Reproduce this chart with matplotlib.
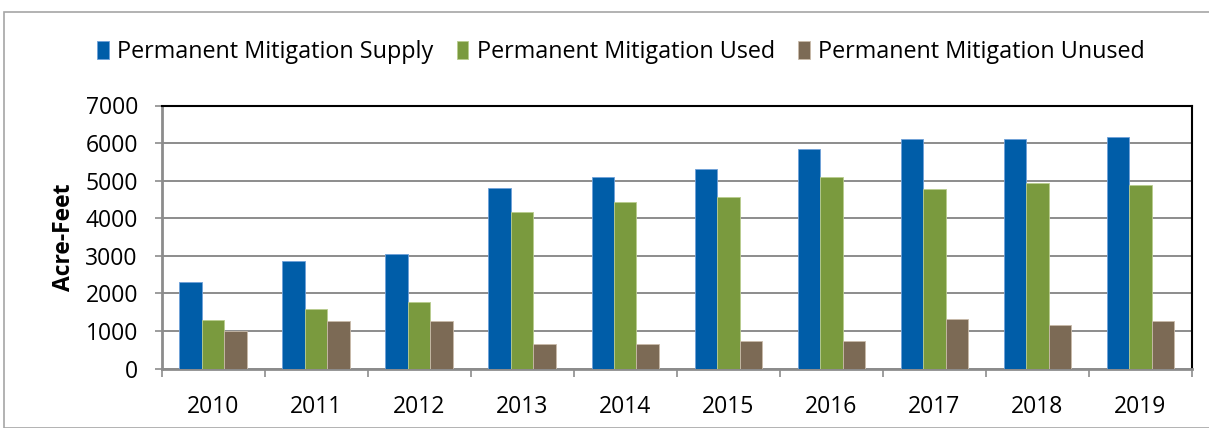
import numpy as np
import matplotlib
matplotlib.use("Agg")
import matplotlib.pyplot as plt
from matplotlib.patches import Rectangle

# Data
years = ['2010', '2011', '2012', '2013', '2014', '2015', '2016', '2017', '2018', '2019']
supply = [2300, 2860, 3060, 4810, 5100, 5300, 5835, 6120, 6120, 6150]
used = [1300, 1575, 1780, 4155, 4440, 4575, 5090, 4780, 4940, 4885]
unused = [1000, 1275, 1275, 660, 660, 720, 740, 1325, 1165, 1255]
labels = ['Permanent Mitigation Supply', 'Permanent Mitigation Used', 'Permanent Mitigation Unused']

colors = ['#005DA8', '#7A9A3E', '#7C6A55']
edges = ['#6FA0D8', '#B9CC8E', '#C9BBAA']

plt.rcParams['font.family'] = ['Open Sans', 'DejaVu Sans']

fig = plt.figure(figsize=(12.09, 4.28), dpi=100)
ax = fig.add_axes([161.5 / 1209, 1 - 368.5 / 428, (1192 - 161.5) / 1209, (368.5 - 105.5) / 428])

# light frame round the whole chart
fig.patches.append(Rectangle((4 / 1209, 0), 1.2, 1 - 12 / 428, transform=fig.transFigure,
                             fill=False, edgecolor='#A6A6A6', linewidth=1.2))

x = np.arange(len(years))
w = 0.218
for k, vals in enumerate([supply, used, unused]):
    ax.bar(x + (k - 1) * w, vals, width=w, color=colors[k], edgecolor=edges[k],
           linewidth=0.6, label=labels[k], zorder=3)

ax.set_xlim(-0.5, len(years) - 0.5)
ax.set_ylim(0, 7000)
ax.set_yticks(np.arange(0, 7001, 1000))
ax.yaxis.grid(True, color='#8C8C8C', linewidth=1.4, zorder=0)

# category ticks sit between the groups
ax.set_xticks(x)
ax.set_xticklabels(years, fontsize=16.5)
ax.tick_params(axis='x', which='major', length=0, pad=19)
ax.set_xticks(np.arange(-0.5, len(years)), minor=True)
ax.tick_params(axis='x', which='minor', length=6, width=1.2, color='#8C8C8C')
ax.tick_params(axis='y', length=5, width=1.2, color='#8C8C8C', labelsize=16.5, pad=12)

for s in ['left', 'bottom']:
    ax.spines[s].set_color('#8C8C8C')
    ax.spines[s].set_linewidth(2)
for s in ['top', 'right']:
    ax.spines[s].set_color('#000000')
    ax.spines[s].set_linewidth(1.5)

ax.set_ylabel('Acre-Feet', fontsize=16.5, fontweight='bold', labelpad=7)

fig.legend(loc='center', bbox_to_anchor=(621 / 1209, 1 - 52 / 428), ncol=3, frameon=False,
           fontsize=16.8, handlelength=0.5, handleheight=0.85, handletextpad=0.35,
           columnspacing=1.0)

fig.savefig('out.png', dpi=100)
